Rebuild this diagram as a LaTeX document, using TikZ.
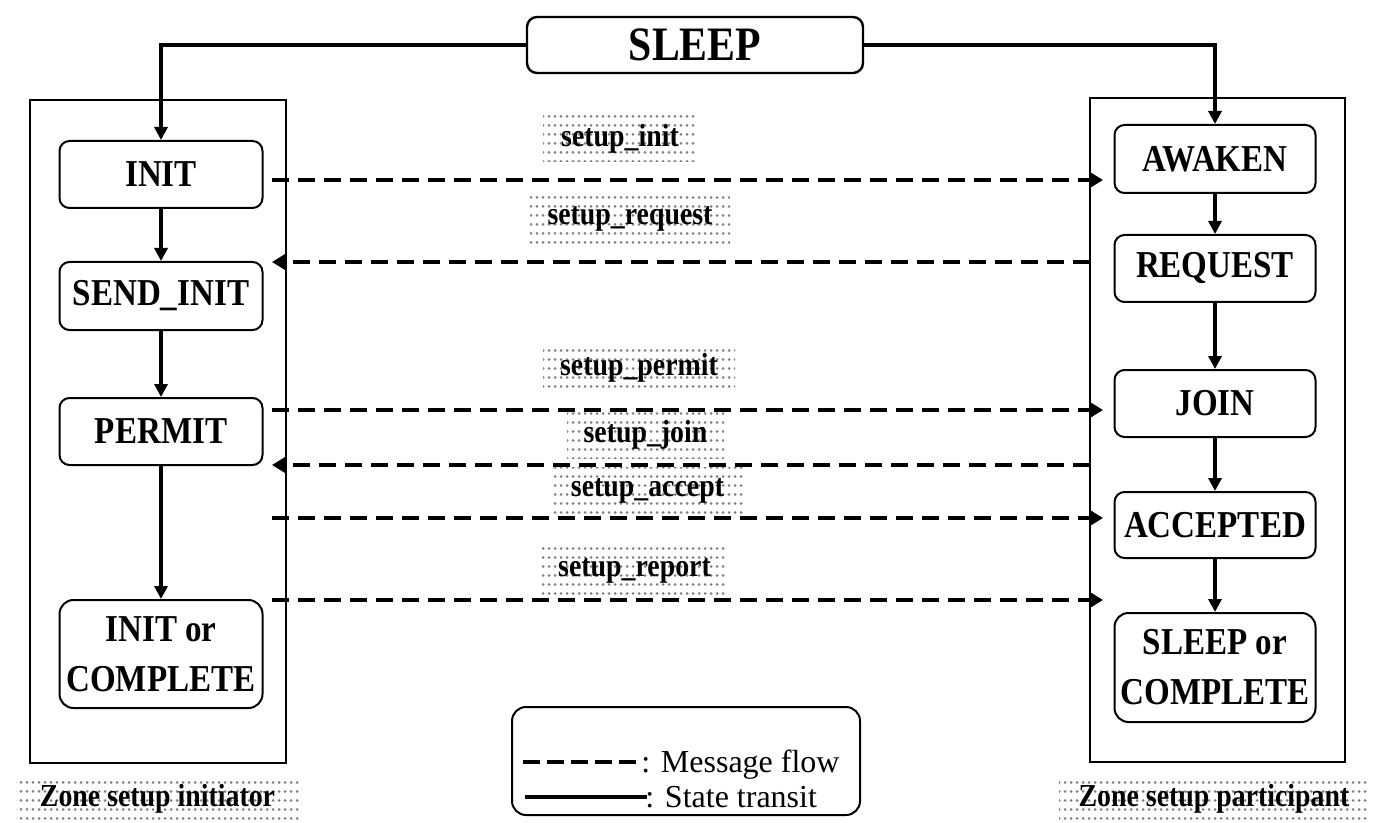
\documentclass[tikz,border=0pt]{standalone}
\usepackage{fontspec}
\setmainfont{Liberation Serif}
\newfontfamily\condserif[FakeStretch=0.87]{Liberation Serif}
\usetikzlibrary{arrows.meta,patterns}
\pgfdeclarepatternformonly{halftone}{\pgfqpoint{-1pt}{-1pt}}{\pgfqpoint{4pt}{5.5pt}}{\pgfqpoint{3pt}{4.5pt}}{%
  \pgfpathcircle{\pgfqpoint{1.5pt}{2.25pt}}{0.75pt}\pgfusepath{fill}}
\newcommand\stfont{\condserif\bfseries\fontsize{19}{25}\selectfont}
\newcommand\msgfont{\condserif\bfseries\fontsize{16}{18}\selectfont}
\newcommand\bigfont{\condserif\bfseries\fontsize{24}{28}\selectfont}
\newcommand\zonefont{\condserif\bfseries\fontsize{16}{18}\selectfont}
\newcommand\legfont{\fontsize{16}{18}\selectfont}
\begin{document}
\begin{tikzpicture}[x=0.5pt,y=-0.5pt,
  state/.style={draw, line width=1pt, rounded corners=5pt, font=\stfont, align=center, inner sep=0pt},
  zone/.style={draw, line width=0.75pt, inner sep=0pt},
  msg/.style={pattern=halftone, pattern color=black!50, inner sep=0pt, font=\msgfont},
  zlabel/.style={pattern=halftone, pattern color=black!50, inner sep=0pt, font=\zonefont},
  trans/.style={line width=1.7pt, -{Triangle[length=6.5pt,width=6.5pt]}},
  flow/.style={line width=2.2pt, dash pattern=on 8.5pt off 4.5pt, -{Triangle[length=6.5pt,width=7.5pt]}},
  legdash/.style={line width=2.2pt, dash pattern=on 8.5pt off 3.5pt},
  legline/.style={line width=1.6pt}]
\useasboundingbox (0,0) rectangle (1395,823);

% message labels (shaded)
\node[msg, minimum width=77pt, minimum height=23.5pt] (lInit) at (620,138.5) {setup\_init};
\node[msg, minimum width=100pt, minimum height=26pt] (lReq) at (630,219) {setup\_request};
\node[msg, minimum width=96pt, minimum height=24pt] (lPer) at (639,368) {setup\_permit};
\node[msg, minimum width=78.5pt, minimum height=23pt] (lJoin) at (645.5,435) {setup\_join};
\node[msg, minimum width=95.5pt, minimum height=24pt] (lAcc) at (647.5,491) {setup\_accept};
\node[msg, minimum width=92.5pt, minimum height=24pt] (lRep) at (634.5,571) {setup\_report};

% zone labels
\node[zlabel, minimum width=141.5pt, minimum height=21.5pt] (zl) at (157.5,798.5) {Zone setup initiator};
\node[zlabel, minimum width=155pt, minimum height=21.5pt] (zr) at (1214,798.5) {Zone setup participant};

% zones
\node[zone, minimum width=128pt, minimum height=331.5pt] (zoneL) at (158,431.5) {};
\node[zone, minimum width=127.5pt, minimum height=332pt] (zoneR) at (1217.5,430) {};

% SLEEP
\node[state, line width=1.2pt, font=\bigfont, minimum width=168pt, minimum height=28pt] (sleep) at (695,45) {SLEEP};

% initiator states
\node[state, minimum width=101.5pt, minimum height=33.5pt] (init) at (161,174.5) {INIT};
\node[state, minimum width=101.5pt, minimum height=34pt] (sendinit) at (161,296) {SEND\_INIT};
\node[state, minimum width=101.5pt, minimum height=33.5pt] (permit) at (161,431.5) {PERMIT};
\node[state, rounded corners=7pt, minimum width=101.5pt, minimum height=54pt] (initc) at (161,654) {INIT or\\COMPLETE};

% participant states
\node[state, minimum width=100.5pt, minimum height=34pt] (awaken) at (1215,159) {AWAKEN};
\node[state, minimum width=100.5pt, minimum height=33.5pt] (request) at (1215,268.5) {REQUEST};
\node[state, minimum width=100.5pt, minimum height=33.5pt] (join) at (1215,403.5) {JOIN};
\node[state, minimum width=100.5pt, minimum height=33pt] (accepted) at (1215,525) {ACCEPTED};
\node[state, rounded corners=7pt, minimum width=100.5pt, minimum height=54.5pt] (sleepc) at (1215,667.5) {SLEEP or\\COMPLETE};

% state transitions
\draw[trans] (sleep.west) -| (init.north);
\draw[trans] (sleep.east) -| (awaken.north);
\draw[trans] (init) -- (sendinit);
\draw[trans] (sendinit) -- (permit);
\draw[trans] (permit) -- (initc);
\draw[trans] (awaken) -- (request);
\draw[trans] (request) -- (join);
\draw[trans] (join) -- (accepted);
\draw[trans] (accepted) -- (sleepc);

% message flow end points
\coordinate (m1a) at (272,180);  \coordinate (m1b) at (1103,180);
\coordinate (m2a) at (1090,262); \coordinate (m2b) at (272,262);
\coordinate (m3a) at (272,410);  \coordinate (m3b) at (1103,410);
\coordinate (m4a) at (1090,465); \coordinate (m4b) at (272,465);
\coordinate (m5a) at (272,518);  \coordinate (m5b) at (1103,518);
\coordinate (m6a) at (272,600);  \coordinate (m6b) at (1103,600);
\draw[flow] (m1a) -- (m1b);
\draw[flow] (m2a) -- (m2b);
\draw[flow] (m3a) -- (m3b);
\draw[flow] (m4a) -- (m4b);
\draw[flow] (m5a) -- (m5b);
\draw[flow] (m6a) -- (m6b);

% legend
\node[draw, line width=1pt, rounded corners=7pt, minimum width=174pt, minimum height=54pt] (legend) at (686,761) {};
\coordinate (ld1) at (523,762); \coordinate (ld2) at (638,762);
\coordinate (ls1) at (525,797); \coordinate (ls2) at (647,797);
\draw[legdash] (ld1) -- (ld2);
\draw[legline] (ls1) -- (ls2);
\node[anchor=base west, inner sep=0pt, font=\legfont] (legmsg) at (641,772) {: Message flow};
\node[anchor=base west, inner sep=0pt, font=\legfont] (legst) at (645,807) {: State transit};
\end{tikzpicture}
\end{document}
